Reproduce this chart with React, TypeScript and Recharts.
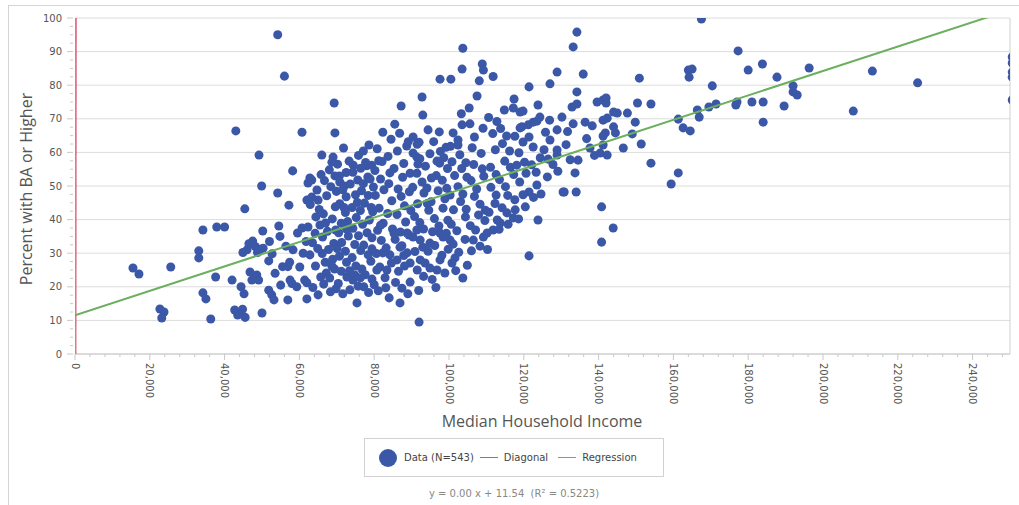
import { ScatterChart, Scatter, XAxis, YAxis, CartesianGrid, ReferenceLine } from 'recharts'

// each pair: [median household income in $1000s, percent with BA or higher]
const under45k: [number, number][] = [
  [15.5, 25.6], [17.1, 23.8], [25.6, 25.9], [22.7, 13.4], [23.8, 12.5], [23.2, 10.7],
  [33.1, 30.7], [33.1, 28.6], [34.2, 36.9], [34.2, 18.2], [35, 16.4], [36.3, 10.4],
  [37.6, 22.9], [37.9, 37.8], [40, 37.8], [43, 66.4], [42, 22], [44.4, 20], [45.2, 17.9],
  [42.7, 13.1], [44, 12], [45.5, 10.9], [43.5, 11.6], [44.8, 13.3], [45.4, 43.2],
  [46, 31], [46.5, 32.8], [47.5, 33.6], [44.9, 30.2],
]

const from45to60k: [number, number][] = [
  [49.2, 59.2], [49.9, 50], [54.2, 47.9], [54.2, 95], [56, 82.7], [58.2, 54.5], [57.2, 44.3],
  [50.2, 36.6], [54.5, 38.1], [48.2, 32], [49.5, 31.2], [50.3, 31.5], [48.8, 30.2],
  [47.3, 22], [48.6, 23.5], [49.1, 22], [50, 12.2], [51.8, 27.7], [51.8, 19], [52.6, 17.6],
  [53.2, 16.1], [53.5, 24], [55.5, 26], [57.5, 22], [58, 21], [56.9, 16.1], [56.4, 32.1],
  [58.3, 31], [56.9, 26], [57.4, 27.3], [59.3, 20], [46.8, 24.4], [52.7, 29.8], [55, 20.5],
  [54.8, 35], [52, 33.5], [59.5, 36],
]

const from60to70k: [number, number][] = [
  [60.1, 25.9], [61.4, 22], [62, 21.2], [62, 16.4], [65, 17.6], [61, 30], [62.8, 29.5],
  [60.7, 37.5], [62.3, 37.8], [65.5, 38.4], [62, 45.8], [63.3, 46.7], [62.3, 50.9],
  [63.3, 51.8], [60.7, 66], [62.8, 52.4], [66, 59.2], [64.7, 48.8], [65, 45.8], [62.9, 44.5],
  [69, 58.6], [68.7, 57.1], [68, 54.8], [69.5, 53], [69.3, 74.7], [69.5, 65.8],
  [66.5, 20.8], [67.2, 24.1], [68.3, 18.5], [66.9, 27.3], [64.3, 26.2], [63.5, 33.1],
  [64.9, 31.4], [66.2, 34.8], [67.8, 31.1], [68.9, 28.2], [69.4, 25.3], [67.5, 36.5],
  [68.8, 40.2], [66.4, 41.7], [64.4, 40.8], [69.6, 43.8], [67.3, 47.1], [68.4, 49.8],
  [66.7, 51.6], [65.8, 53.4], [69.9, 48.4], [69.7, 36.9], [68.1, 22.6], [65.7, 22.9],
  [63.6, 19.8], [69.8, 19.4], [64.2, 35.9], [61.8, 33.5], [67, 39], [65.3, 43], [69.2, 32.9],
  [68.7, 26.1], [66.1, 29.9],
]

const from70to80k: [number, number][] = [
  [75.4, 15.2], [71.6, 17.9], [75.7, 20.2], [74.3, 22], [72.7, 22.9], [74.8, 23.5], [79.4, 22.3],
  [74.4, 56.2], [77.7, 57], [81.2, 57.5], [78, 56], [78.3, 52.7], [78.6, 62.2], [70.7, 53],
  [72.5, 54], [70.8, 51.2], [72, 50], [70.4, 21], [71.2, 24.6], [72.6, 27.3], [73.4, 24.8],
  [70.7, 29.1], [72.3, 30.6], [74.1, 28.7], [75.1, 26.2], [76.7, 25.3], [77.6, 23.6],
  [79.1, 27.6], [76.4, 30.8], [77.2, 32.4], [79.4, 31.3], [74.8, 32.6], [71.3, 33.2],
  [70.5, 36.1], [73.1, 35.1], [74.3, 37.4], [75.8, 35.2], [78.1, 36.1], [79.4, 34.6],
  [71.2, 38.9], [72.9, 39.4], [75.2, 40.6], [76.9, 38.6], [78.7, 39.9], [79.6, 42.3],
  [72.3, 42.1], [74.1, 43.6], [76.3, 42.7], [77.4, 44.9], [79.2, 43.6], [70.8, 44.7],
  [72.5, 46.8], [75, 47.4], [76.6, 48.6], [78.4, 47.2], [79.8, 49.7], [71.6, 48.9],
  [73.6, 50.6], [75.6, 51.8], [77.1, 50.7], [78.9, 52.1], [74.3, 54.1], [76.4, 55.3],
  [79.3, 56.2], [73.3, 57.4], [75.8, 59.1], [70.2, 56.5], [77.1, 60.4], [71.8, 61.3],
  [73.5, 19.1], [77.2, 20], [78.5, 18.3], [70.1, 31.4], [72.6, 37.2], [75.5, 45.1],
  [71.9, 43.6], [78.4, 29.5], [76.3, 22.7], [80, 20.6],
]

const from80to90k: [number, number][] = [
  [86.9, 31.8], [88.8, 30.1], [89.6, 27.1], [86.1, 28], [84.2, 29.5], [82.3, 30.1], [81.5, 25.9],
  [80.7, 25], [83.4, 25], [87, 36.3], [88.8, 36], [82.3, 66], [85.5, 68.4], [87.2, 73.8],
  [89.6, 21.4], [80.6, 29.9], [81.9, 33.8], [83.2, 31.6], [85.6, 34.1], [87.4, 32.2],
  [89.3, 35.4], [80.9, 36.8], [82.4, 38.9], [84.9, 37.2], [86.1, 41.5], [88.4, 39.3],
  [89.8, 42.7], [81.3, 43.4], [83.6, 41.8], [84.7, 45.6], [87.2, 46.9], [88.1, 44.1],
  [80.3, 47.2], [82.6, 48.9], [83.9, 50.7], [86.4, 49.1], [87.6, 52.6], [89.4, 48.3],
  [81.7, 52.1], [84.2, 53.9], [85.3, 55.2], [87.9, 56.7], [89.6, 53.8], [82.1, 57.3],
  [83.7, 58.8], [86.2, 60.4], [88.7, 61.9], [80.8, 61.1], [84.5, 63.9], [86.8, 65.7],
  [89.1, 63.2], [84.6, 27.1], [86.5, 24.6], [88.1, 26.2], [82.9, 22.7], [85.7, 21.3],
  [87.4, 19.6], [81.1, 18.8], [84, 16.7], [86.9, 15.2], [89, 17.9], [83.1, 19.7], [85.3, 35.9],
  [81.7, 38.3], [87.9, 29.3], [80.2, 54.6],
]

const from90to100k: [number, number][] = [
  [92, 9.5], [97.6, 36], [98.4, 34.8], [100.3, 33.9], [97.6, 28], [96.8, 25], [94.9, 25.6],
  [93.6, 27.1], [92.3, 28], [91.5, 25], [93, 31.8], [94.9, 33], [92.3, 33.9], [90.4, 34.8],
  [91.4, 36.9], [92.8, 76.5], [93, 71.1], [94.4, 66.7], [90.4, 64.6], [92, 63], [91.5, 62.4],
  [90.4, 59.8], [91.4, 58.6], [97.6, 81.8], [90.8, 40.9], [92.2, 39.1], [94.6, 42.8],
  [96.1, 40.3], [98.4, 43.4], [99.7, 39.8], [91.6, 44.7], [93.3, 47.9], [95.2, 45.3],
  [97.1, 48.6], [98.9, 46.2], [90.3, 49.6], [92.8, 51.2], [94.1, 49.4], [96.6, 53.1],
  [98.2, 51.7], [91.4, 53.8], [93.7, 55.9], [95.3, 52.4], [97.5, 56.8], [99.6, 55.2],
  [92.2, 58.1], [94.9, 59.6], [96.8, 57.4], [99.2, 61.5], [95.9, 63.2], [97.7, 60.3],
  [93.2, 37.2], [95.6, 36.4], [97.3, 38.1], [99.3, 35.9], [94.4, 30.6], [96.2, 32.3],
  [98.1, 29.4], [99.8, 31.2], [95.5, 22.2], [93.2, 23.1], [98.9, 24.1], [90.9, 30.5],
  [91.9, 18.9], [96.5, 19.8], [94.2, 44.8], [99.4, 49.3], [91.7, 56.5], [97.4, 66.1],
  [98.6, 58.4],
]

const from100to110k: [number, number][] = [
  [101.1, 32.7], [101.6, 28.6], [100.8, 27.1], [103.7, 22.6], [106.5, 33.9], [109.2, 34.8],
  [110.2, 36], [103.7, 91], [108.9, 86.3], [109.2, 84.5], [103.5, 84.8], [100.5, 81.8],
  [108.1, 81.3], [107.5, 76.8], [105.4, 73.2], [101.1, 65.8], [102.4, 63.7], [102.4, 62.2],
  [103.5, 68.2], [105.6, 68.5], [100.6, 38.6], [102.1, 36.7], [104.4, 40.8], [105.7, 38.2],
  [107.9, 41.4], [109.6, 39.7], [101.2, 42.9], [103.1, 45.4], [104.6, 43.1], [106.8, 46.9],
  [108.3, 44.6], [100.3, 47.3], [102.4, 49.8], [103.7, 47.6], [105.9, 51.6], [107.4, 49.1],
  [109.3, 52.9], [101.5, 53.1], [103.4, 55.2], [104.8, 52.6], [106.6, 56.4], [108.9, 55.1],
  [100.8, 57.2], [102.9, 59.3], [104.5, 56.9], [106.2, 61.4], [108.6, 59.7], [104.3, 34.1],
  [106, 30.7], [108.3, 32.1], [102.6, 30.3], [104.9, 26.4], [107.1, 36.9], [109.7, 42.8],
  [100.4, 61.8], [103.3, 71.5], [106.8, 64.6], [109.1, 67.2], [101.8, 24.8],
]

const from110to125k: [number, number][] = [
  [111.8, 36.9], [112.9, 39.9], [113.7, 39], [117.2, 40.5], [115.5, 42], [117.7, 42.9],
  [121.4, 29.2], [123.8, 39.9], [121.4, 48.2], [123.5, 50.3], [121.4, 79.5], [117.4, 75.9],
  [123.8, 74.1], [114.8, 72.6], [117.2, 73.2], [119, 72], [119.8, 72.3], [124.3, 70.5],
  [123.5, 69.3], [121.2, 68.2], [122.5, 69], [119.5, 67.6], [119, 67.3], [121.4, 64.6],
  [119.8, 63.1], [122.5, 61.6], [110.7, 42.2], [112.3, 44.8], [114.2, 43.5], [115.7, 47.2],
  [117.6, 45.9], [119.8, 47.4], [111.2, 49.6], [113.5, 51.9], [115.1, 49.8], [117.3, 53.4],
  [118.9, 51.2], [120.6, 53.8], [111.1, 55.6], [112.6, 53.4], [114.9, 57.4], [116.4, 55.6],
  [118.7, 59.9], [120.2, 57.1], [112.4, 60.8], [114.3, 62.6], [116.2, 60.4], [117.6, 64.8],
  [111.7, 65.6], [113.8, 67.1], [115.4, 64.9], [110.6, 70.4], [112.8, 69.2], [122.1, 56.3],
  [124.4, 58.4], [123.3, 54.1], [113.4, 37.1], [115.8, 38.6], [118.6, 40.2], [120.4, 43.8],
  [122.6, 46.6], [124.6, 47.6], [110.3, 31.1], [112.6, 47.3], [118.1, 56.2], [111.8, 82.6],
]

const from125to160k: [number, number][] = [
  [130.8, 48.2], [134.2, 95.8], [133.2, 91.4], [128.9, 83.9], [127, 80.4], [135.9, 83.3],
  [134.2, 78], [132.9, 73.5], [134.2, 74.4], [130.2, 70.5], [133.2, 68.5], [128.9, 66.7],
  [128.9, 60.7], [128.9, 59.2], [127, 63.7], [133.7, 53.9], [130.5, 48.2], [134, 48.2],
  [134.5, 57.7], [140.8, 33.3], [143.9, 37.5], [140.8, 43.8], [139.6, 75], [141.2, 75.6],
  [142, 76.2], [142, 74.7], [150.4, 74.7], [154, 74.4], [150.9, 82.1], [144, 72], [145, 71.7],
  [147.7, 71.7], [142.3, 70.2], [141.2, 69.6], [149.8, 69], [136.4, 69], [138.3, 67.9],
  [144, 67.6], [144.5, 65.8], [141.8, 65.8], [141.2, 64.9], [149, 65.5], [151.4, 62.5],
  [146.6, 61.3], [137.7, 61.3], [141.2, 62.2], [140.4, 59.8], [142.3, 59.2], [154, 56.8],
  [159.4, 50.6], [125.8, 66], [126.5, 58], [127.8, 56.4], [131.3, 62.3], [132.4, 57.8],
  [126.3, 52.7], [129.1, 54.4], [125.4, 60.8], [136.8, 64.1], [138.9, 59.1], [126.9, 69.6],
  [131.7, 66.2],
]

const over160k: [number, number][] = [
  [164, 84.5], [165, 84.8], [164.2, 82.4], [161.3, 69.9], [162.6, 67.3], [164.5, 66.4],
  [166.4, 72.6], [161.3, 53.9], [167.5, 99.7], [177.3, 90.2], [180, 84.5], [183.8, 86.3],
  [187.7, 82.4], [196.3, 85.1], [213.2, 84.2], [225.3, 80.7], [250.6, 88.4], [250.6, 86.6],
  [250.6, 83.9], [250.6, 82.4], [250.6, 75.6], [170.4, 79.8], [192, 79.8], [192, 78],
  [193.1, 77.1], [166.9, 70.5], [169.5, 73.5], [171.4, 74.4], [176.7, 74.1], [177, 75],
  [181, 75], [184, 75], [189.6, 73.8], [184, 69], [208.1, 72.3],
]

const diagonalIncome = [0, 100]
const diagonalPct = [0, 100]
const regressionIncome = [0, 250000]
const regressionPct = [11.54, 102.4]

const xMajorTicks = [0, 20000, 40000, 60000, 80000, 100000, 120000, 140000, 160000, 180000, 200000, 220000, 240000]
const yMajorTicks = [0, 10, 20, 30, 40, 50, 60, 70, 80, 90, 100]
const xTicks = Array.from({ length: 63 }, (_, i) => i * 4000)
const yTicks = Array.from({ length: 41 }, (_, i) => i * 2.5)

const points = [
  ...under45k, ...from45to60k, ...from60to70k, ...from70to80k, ...from80to90k,
  ...from90to100k, ...from100to110k, ...from110to125k, ...from125to160k, ...over160k,
].map(([inc, pct]) => ({ x: inc * 1000, y: pct }))

const diagonal = diagonalIncome.map((x, i) => ({ x, y: diagonalPct[i] }))
const regression = regressionIncome.map((x, i) => ({ x, y: regressionPct[i] }))

const BLUE = '#3B57A7'
const RED = '#D9546A'
const GREEN = '#6CB05E'
const AXIS = '#C8C8C8'
const TICK_FONT = 'DejaVu Sans, sans-serif'

function XTick({ x, y, payload }: any) {
  const v = payload.value
  const major = xMajorTicks.includes(v)
  return (
    <g transform={`translate(${x},${y})`}>
      <line x1={0} y1={0} x2={0} y2={major ? 6 : 3} stroke={AXIS} />
      {major && (
        <text transform="rotate(90)" x={9} y={0} dy="0.35em" textAnchor="start"
          fontSize={10} fill="#555" fontFamily={TICK_FONT}>
          {v.toLocaleString('en-US')}
        </text>
      )}
    </g>
  )
}

function YTick({ x, y, payload }: any) {
  const v = payload.value
  const major = yMajorTicks.includes(v)
  return (
    <g>
      <line x1={x - (major ? 8 : 5)} y1={y} x2={x - 2} y2={y} stroke={AXIS} />
      {major && (
        <text x={x - 13} y={y} dy="0.35em" textAnchor="end" fontSize={10} fill="#555" fontFamily={TICK_FONT}>
          {v}
        </text>
      )}
    </g>
  )
}

function XTitle() {
  return (
    <text x={542} y={427} textAnchor="middle" fontSize={16} fill="#555" fontFamily="Open Sans, sans-serif">
      Median Household Income
    </text>
  )
}

function YTitle() {
  return (
    <text x={32} y={189} transform="rotate(-90 32 189)" textAnchor="middle" fontSize={16} fill="#555"
      fontFamily="Open Sans, sans-serif">
      Percent with BA or Higher
    </text>
  )
}

function LegendBox() {
  const line = (color: string) => (
    <span style={{ display: 'block', width: 18, height: 1, background: color }} />
  )
  return (
    <div style={{
      position: 'absolute', left: 364, top: 438, width: 300, height: 39, boxSizing: 'border-box',
      border: '1px solid #d2d2d2', display: 'flex', alignItems: 'center',
      fontFamily: TICK_FONT, fontSize: 10, color: '#444', background: '#fff',
    }}>
      <span style={{ display: 'inline-block', width: 18, height: 18, borderRadius: '50%', background: BLUE, marginLeft: 14 }} />
      <span style={{ marginLeft: 7 }}>Data (N=543)</span>
      <span style={{ marginLeft: 6 }}>{line(RED)}</span>
      <span style={{ marginLeft: 6 }}>Diagonal</span>
      <span style={{ marginLeft: 10 }}>{line(GREEN)}</span>
      <span style={{ marginLeft: 6 }}>Regression</span>
    </div>
  )
}

export default function App() {
  return (
    <div style={{ position: 'absolute', left: 0, top: 0, width: 1019, height: 505, background: '#fff', overflow: 'hidden' }}>
      <div style={{ position: 'absolute', left: 8, top: 5, right: -2, bottom: -2, borderLeft: '1px solid #d4d4d4', borderTop: '1px solid #d4d4d4' }} />
      <ScatterChart width={1019} height={505} margin={{ top: 18, right: 9, bottom: 0, left: 10 }} style={{ position: 'absolute', left: 0, top: 0 }}>
        <CartesianGrid vertical={false} horizontalValues={yMajorTicks} stroke="#dcdcdc" strokeWidth={1} />
        <XAxis type="number" dataKey="x" domain={[0, 250000]} allowDataOverflow ticks={xTicks} interval={0}
          height={151} tick={<XTick />} tickLine={false} tickSize={0} tickMargin={0} stroke={AXIS}
          label={<XTitle />} />
        <YAxis type="number" dataKey="y" domain={[0, 100]} allowDataOverflow ticks={yTicks} interval={0}
          width={65} tick={<YTick />} tickLine={false} axisLine={false} tickSize={0} tickMargin={0}
          label={<YTitle />} />
        <ReferenceLine x={250000} stroke="#d0d0d0" />
        <Scatter data={points} fill={BLUE} isAnimationActive={false} />
        <Scatter data={diagonal} line={{ stroke: RED, strokeWidth: 3, strokeOpacity: 0.8 }} shape={() => <g />} isAnimationActive={false} />
        <Scatter data={regression} line={{ stroke: GREEN, strokeWidth: 2 }} shape={() => <g />} isAnimationActive={false} />
      </ScatterChart>
      <LegendBox />
      <div style={{
        position: 'absolute', left: 364, top: 488, width: 300, textAlign: 'center',
        fontFamily: TICK_FONT, fontSize: 10, color: '#888',
      }}>
        y = 0.00 x + 11.54&nbsp; (R² = 0.5223)
      </div>
    </div>
  )
}
